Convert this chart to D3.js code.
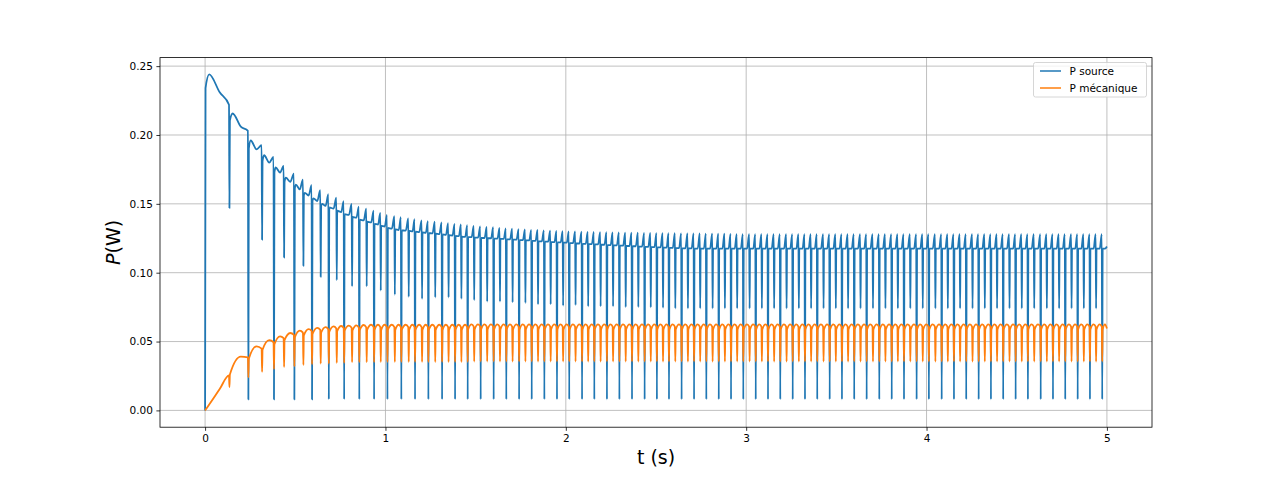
<!DOCTYPE html>
<html><head><meta charset="utf-8">
<script src="https://cdn.jsdelivr.net/npm/d3@7"></script>
<style>body{margin:0;background:#fff;} svg{display:block;font-family:"DejaVu Sans",sans-serif;}</style>
</head><body><svg id="c" width="1280" height="480"></svg>
<script>
// ---------- DATA ----------
const xTicks = [0, 1, 2, 3, 4, 5];
const xTickLabels = ["0", "1", "2", "3", "4", "5"];
const yTicks = [0.00, 0.05, 0.10, 0.15, 0.20, 0.25];
const yTickLabels = ["0.00", "0.05", "0.10", "0.15", "0.20", "0.25"];
const seriesNames = ["P source", "P mécanique"];
const tEnd = 5.0;
const blueInit = 0.0;
const orangeInit = 0.0;

// times of the commutation dips (s)
const dipT = [
0.135,0.240,0.316,0.382,0.438,0.495,0.545,0.593,0.641,0.686,
0.730,0.771,0.815,0.855,0.896,0.937,0.974,1.011,1.052,1.088,
1.129,1.164,1.203,1.238,1.276,1.314,1.350,1.386,1.421,1.456,
1.492,1.528,1.564,1.600,1.635,1.670,1.705,1.741,1.776,1.811,
1.846,1.881,1.916,1.951,1.985,2.019,2.054,2.090,2.124,2.158,
2.193,2.228,2.262,2.297,2.332,2.367,2.402,2.437,2.471,2.505,
2.539,2.572,2.607,2.642,2.677,2.711,2.745,2.779,2.814,2.848,
2.882,2.916,2.950,2.984,3.019,3.053,3.087,3.121,3.155,3.189,
3.224,3.258,3.292,3.326,3.360,3.394,3.429,3.463,3.497,3.531,
3.565,3.599,3.634,3.668,3.703,3.738,3.772,3.807,3.841,3.875,
3.910,3.945,3.979,4.013,4.049,4.084,4.118,4.152,4.186,4.220,
4.255,4.289,4.323,4.357,4.391,4.425,4.460,4.494,4.528,4.562,
4.597,4.633,4.667,4.701,4.735,4.769,4.804,4.838,4.872,4.906,
4.940,4.974];

// P source: minimum reached at each dip
const blueMin = [
0.147,0.008,0.124,0.008,0.111,0.008,0.105,0.008,0.097,0.008,
0.0945,0.008,0.090,0.008,0.090,0.008,0.087,0.008,0.084,0.008,
0.0824,0.008,0.081,0.008,0.082,0.008,0.082,0.008,0.081,0.008,
0.080,0.008,0.079,0.008,0.079,0.008,0.0785,0.008,0.078,0.008,
0.077,0.008,0.077,0.008,0.076,0.008,0.0765,0.008,0.0755,0.008,
0.0755,0.008,0.0755,0.008,0.075,0.008,0.075,0.008,0.0748,0.008,
0.0745,0.008,0.074,0.008,0.074,0.008,0.074,0.008,0.074,0.008,
0.074,0.008,0.074,0.008,0.074,0.008,0.074,0.008,0.074,0.008,
0.074,0.008,0.074,0.008,0.074,0.008,0.074,0.008,0.074,0.008,
0.074,0.008,0.074,0.008,0.074,0.008,0.074,0.008,0.074,0.008,
0.074,0.008,0.074,0.008,0.074,0.008,0.074,0.008,0.074,0.008,
0.074,0.008,0.074,0.008,0.074,0.008,0.074,0.008,0.074,0.008,
0.074,0.008,0.074,0.008,0.074,0.008,0.074,0.008,0.074,0.008,
0.074,0.008];

// P source, early intervals: level reached by the vertical jump right after the dip
const blueJump = [0.234,0.2105,0.190,0.181,0.173,0.166,0.161,0.156,0.152,0.1485];
// P source, per interval between dips: post-dip peak, level before the end cusp, cusp before next dip
const bluePost = [
0.244,0.2156,0.196,0.1853,0.1764,0.169,0.164,0.158,0.154,0.150,
0.1475,0.145,0.1425,0.1405,0.1385,0.137,0.1355,0.134,0.1325,0.1315,
0.1308,0.1303,0.1298,0.1293,0.1288,0.1283,0.1278,0.1272,0.1267,0.1261,
0.1258,0.1255,0.1252,0.125,0.1248,0.1245,0.1242,0.124,0.1237,0.1234,
0.1231,0.1228,0.1225,0.1222,0.122,0.1218,0.1215,0.1212,0.121,0.1208,
0.1205,0.1203,0.12,0.1198,0.1196,0.1194,0.1192,0.119,0.1188,0.1186,
0.1184,0.1182,0.118,0.1178,0.1177,0.1176,0.1175,0.1175,0.1175,0.1175,
0.1175,0.1175,0.1175,0.1175,0.1175,0.1175,0.1175,0.1175,0.1175,0.1175,
0.1175,0.1175,0.1175,0.1175,0.1175,0.1175,0.1175,0.1175,0.1175,0.1175,
0.1175,0.1175,0.1175,0.1175,0.1175,0.1175,0.1175,0.1175,0.1175,0.1175,
0.1175,0.1175,0.1175,0.1175,0.1175,0.1175,0.1175,0.1175,0.1175,0.1175,
0.1175,0.1175,0.1175,0.1175,0.1175,0.1175,0.1175,0.1175,0.1175,0.1175,
0.1175,0.1175,0.1175,0.1175,0.1175,0.1175,0.1175,0.1175,0.1175,0.1175,
0.1175,0.1175,0.1175];
const blueBase = [
0.231,0.206,0.1895,0.180,0.1727,0.166,0.1605,0.156,0.152,0.1485,
0.1465,0.144,0.142,0.140,0.138,0.1365,0.135,0.1335,0.132,0.131,
0.1305,0.130,0.1295,0.129,0.1285,0.128,0.1275,0.127,0.1265,0.126,
0.1258,0.1255,0.1252,0.125,0.1248,0.1245,0.1242,0.124,0.1237,0.1234,
0.1231,0.1228,0.1225,0.1222,0.122,0.1218,0.1215,0.1212,0.121,0.1208,
0.1205,0.1203,0.12,0.1198,0.1196,0.1194,0.1192,0.119,0.1188,0.1186,
0.1184,0.1182,0.118,0.1178,0.1177,0.1176,0.1175,0.1175,0.1175,0.1175,
0.1175,0.1175,0.1175,0.1175,0.1175,0.1175,0.1175,0.1175,0.1175,0.1175,
0.1175,0.1175,0.1175,0.1175,0.1175,0.1175,0.1175,0.1175,0.1175,0.1175,
0.1175,0.1175,0.1175,0.1175,0.1175,0.1175,0.1175,0.1175,0.1175,0.1175,
0.1175,0.1175,0.1175,0.1175,0.1175,0.1175,0.1175,0.1175,0.1175,0.1175,
0.1175,0.1175,0.1175,0.1175,0.1175,0.1175,0.1175,0.1175,0.1175,0.1175,
0.1175,0.1175,0.1175,0.1175,0.1175,0.1175,0.1175,0.1175,0.1175,0.1175,
0.1175,0.1175,0.1175];
const blueCusp = [
0.222,0.203,0.1926,0.184,0.1775,0.172,0.1675,0.1635,0.160,0.157,
0.1545,0.152,0.150,0.148,0.1465,0.145,0.1435,0.142,0.141,0.1403,
0.1395,0.1388,0.138,0.1375,0.137,0.1365,0.136,0.1355,0.135,0.1345,
0.134,0.1337,0.1333,0.133,0.1325,0.1322,0.132,0.1317,0.1314,0.1311,
0.131,0.1308,0.1306,0.1304,0.1302,0.130,0.1299,0.1298,0.1297,0.1296,
0.1295,0.1294,0.1293,0.1292,0.1291,0.129,0.129,0.1289,0.1289,0.1288,
0.1288,0.1287,0.1287,0.1286,0.1286,0.1285,0.1285,0.1284,0.1284,0.1283,
0.1283,0.1282,0.128,0.128,0.128,0.128,0.128,0.128,0.128,0.128,
0.128,0.128,0.128,0.128,0.128,0.128,0.128,0.128,0.128,0.128,
0.128,0.128,0.128,0.128,0.128,0.128,0.128,0.128,0.128,0.128,
0.128,0.128,0.128,0.128,0.128,0.128,0.128,0.128,0.128,0.128,
0.128,0.128,0.128,0.128,0.128,0.128,0.128,0.128,0.128,0.128,
0.128,0.128,0.128,0.128,0.128,0.128,0.128,0.128,0.128,0.128,
0.128,0.128,0.119];

// P mécanique: minimum at each dip
const orangeMin = [
0.017,0.024,0.028,0.030,0.0315,0.032,0.033,0.0335,0.034,0.034,
0.0345,0.0345,0.035,0.035,0.035,0.035,0.0352,0.0352,0.0352,0.0352,
0.0352,0.0352,0.0352,0.0352,0.0352,0.0352,0.0352,0.0352,0.0352,0.0352,
0.0355,0.0355,0.0355,0.0355,0.0355,0.0355,0.0355,0.0355,0.0355,0.0355,
0.0355,0.0355,0.0355,0.0355,0.0355,0.0355,0.0355,0.0355,0.0355,0.0355,
0.0355,0.0355,0.0355,0.0355,0.0355,0.0355,0.0355,0.0355,0.0355,0.0355,
0.0355,0.0355,0.0355,0.0355,0.0355,0.0355,0.0355,0.0355,0.0355,0.0355,
0.0355,0.0355,0.0355,0.0355,0.0355,0.0355,0.0355,0.0355,0.0355,0.0355,
0.0355,0.0355,0.0355,0.0355,0.0355,0.0355,0.0355,0.0355,0.0355,0.0355,
0.0355,0.0355,0.0355,0.0355,0.0355,0.0355,0.0355,0.0355,0.0355,0.0355,
0.0355,0.0355,0.0355,0.0355,0.0355,0.0355,0.0355,0.0355,0.0355,0.0355,
0.0355,0.0355,0.0355,0.0355,0.0355,0.0355,0.0355,0.0355,0.0355,0.0355,
0.0355,0.0355,0.0355,0.0355,0.0355,0.0355,0.0355,0.0355,0.0355,0.0355,
0.0355,0.0355];
// P mécanique, per interval: start of arch, top of arch, value before next dip
const orangeStart = [
0.0025,0.026,0.0375,0.044,0.048,0.051,0.053,0.0545,0.0555,0.0565,
0.057,0.0575,0.058,0.058,0.0583,0.0585,0.0585,0.0585,0.0585,0.0585,
0.0585,0.0585,0.0585,0.0585,0.0585,0.0585,0.0585,0.0585,0.0585,0.0585,
0.0588,0.0588,0.0588,0.0588,0.0588,0.0588,0.0588,0.0588,0.0588,0.0588,
0.0588,0.0588,0.0588,0.0588,0.0588,0.0588,0.0588,0.0588,0.0588,0.0588,
0.0588,0.0588,0.0588,0.0588,0.0588,0.0588,0.0588,0.0588,0.0588,0.0588,
0.0588,0.0588,0.0588,0.0588,0.0588,0.0588,0.0588,0.0588,0.0588,0.0588,
0.0588,0.0588,0.0588,0.0588,0.0588,0.0588,0.0588,0.0588,0.0588,0.0588,
0.0588,0.0588,0.0588,0.0588,0.0588,0.0588,0.0588,0.0588,0.0588,0.0588,
0.0588,0.0588,0.0588,0.0588,0.0588,0.0588,0.0588,0.0588,0.0588,0.0588,
0.0588,0.0588,0.0588,0.0588,0.0588,0.0588,0.0588,0.0588,0.0588,0.0588,
0.0588,0.0588,0.0588,0.0588,0.0588,0.0588,0.0588,0.0588,0.0588,0.0588,
0.0588,0.0588,0.0588,0.0588,0.0588,0.0588,0.0588,0.0588,0.0588,0.0588,
0.0588,0.0588,0.0588];
const orangePeak = [
0.0155,0.039,0.0465,0.051,0.0538,0.0562,0.058,0.059,0.060,0.0605,
0.061,0.0613,0.0616,0.0618,0.062,0.0622,0.0622,0.0622,0.0622,0.0622,
0.0622,0.0622,0.0622,0.0622,0.0622,0.0622,0.0622,0.0622,0.0622,0.0622,
0.0625,0.0625,0.0625,0.0625,0.0625,0.0625,0.0625,0.0625,0.0625,0.0625,
0.0625,0.0625,0.0625,0.0625,0.0625,0.0625,0.0625,0.0625,0.0625,0.0625,
0.0625,0.0625,0.0625,0.0625,0.0625,0.0625,0.0625,0.0625,0.0625,0.0625,
0.0625,0.0625,0.0625,0.0625,0.0625,0.0625,0.0625,0.0625,0.0625,0.0625,
0.0625,0.0625,0.0625,0.0625,0.0625,0.0625,0.0625,0.0625,0.0625,0.0625,
0.0625,0.0625,0.0625,0.0625,0.0625,0.0625,0.0625,0.0625,0.0625,0.0625,
0.0625,0.0625,0.0625,0.0625,0.0625,0.0625,0.0625,0.0625,0.0625,0.0625,
0.0625,0.0625,0.0625,0.0625,0.0625,0.0625,0.0625,0.0625,0.0625,0.0625,
0.0625,0.0625,0.0625,0.0625,0.0625,0.0625,0.0625,0.0625,0.0625,0.0625,
0.0625,0.0625,0.0625,0.0625,0.0625,0.0625,0.0625,0.0625,0.0625,0.0625,
0.0625,0.0625,0.0625];
const orangeEnd = [
0.0254,0.0385,0.0448,0.0495,0.0525,0.0548,0.0565,0.0577,0.0585,0.059,
0.0595,0.0598,0.060,0.0602,0.0603,0.0605,0.0605,0.0605,0.0605,0.0605,
0.0605,0.0605,0.0605,0.0605,0.0605,0.0605,0.0605,0.0605,0.0605,0.0605,
0.0608,0.0608,0.0608,0.0608,0.0608,0.0608,0.0608,0.0608,0.0608,0.0608,
0.0608,0.0608,0.0608,0.0608,0.0608,0.0608,0.0608,0.0608,0.0608,0.0608,
0.0608,0.0608,0.0608,0.0608,0.0608,0.0608,0.0608,0.0608,0.0608,0.0608,
0.0608,0.0608,0.0608,0.0608,0.0608,0.0608,0.0608,0.0608,0.0608,0.0608,
0.0608,0.0608,0.0608,0.0608,0.0608,0.0608,0.0608,0.0608,0.0608,0.0608,
0.0608,0.0608,0.0608,0.0608,0.0608,0.0608,0.0608,0.0608,0.0608,0.0608,
0.0608,0.0608,0.0608,0.0608,0.0608,0.0608,0.0608,0.0608,0.0608,0.0608,
0.0608,0.0608,0.0608,0.0608,0.0608,0.0608,0.0608,0.0608,0.0608,0.0608,
0.0608,0.0608,0.0608,0.0608,0.0608,0.0608,0.0608,0.0608,0.0608,0.0608,
0.0608,0.0608,0.0608,0.0608,0.0608,0.0608,0.0608,0.0608,0.0608,0.0608,
0.0608,0.0608,0.0595];

// ---------- CHART ----------
const m = {l: 160, r: 1152, t: 57.6, b: 427.2};
const x = d3.scaleLinear().domain([-0.25, 5.25]).range([m.l, m.r]);
const y = d3.scaleLinear().domain([-0.0122, 0.2562]).range([m.b, m.t]);
const svg = d3.select('#c');
const FONT = '"DejaVu Sans", sans-serif';
const EDGE = 0.0025;   // half-width of a dip, in seconds

// Builds the polyline of one series: jump after each dip, optional post-dip peak,
// level in the interval, value just before the next dip, then the dip minimum.
function buildPoints(init, jumpArr, startArr, midArr, endArr, minArr, peakFrac, midFrac) {
  const N = dipT.length;
  const pts = [[0, init]];
  for (let k = 0; k <= N; k++) {
    const t0 = k === 0 ? 0 : dipT[k - 1];
    const t1 = k === N ? tEnd : dipT[k];
    const L = t1 - t0;
    if (jumpArr && k < jumpArr.length) {
      pts.push([t0 + EDGE, jumpArr[k]]);
      pts.push([t0 + peakFrac * L, startArr[k]]);
    } else if (!jumpArr && k === 0) {
      pts.push([t0 + peakFrac * L, startArr[k]]);
    } else {
      pts.push([t0 + EDGE, startArr[k]]);
    }
    pts.push([t0 + midFrac * L, midArr[k]]);
    if (k < N) { pts.push([t1 - EDGE, endArr[k]]); pts.push([t1, minArr[k]]); }
    else pts.push([t1, endArr[k]]);
  }
  return pts;
}

// grid
const grid = svg.append('g');
grid.selectAll('line.gx').data(xTicks).join('line').attr('class', 'gx')
  .attr('x1', d => x(d)).attr('x2', d => x(d)).attr('y1', m.t).attr('y2', m.b)
  .attr('stroke', '#b0b0b0').attr('stroke-width', 0.8);
grid.selectAll('line.gy').data(yTicks).join('line').attr('class', 'gy')
  .attr('y1', d => y(d)).attr('y2', d => y(d)).attr('x1', m.l).attr('x2', m.r)
  .attr('stroke', '#b0b0b0').attr('stroke-width', 0.8);

const line = d3.line().x(d => x(d[0])).y(d => y(d[1])).curve(d3.curveMonotoneX);
const bluePts = buildPoints(blueInit, blueJump, bluePost, blueBase, blueCusp, blueMin, 0.17, 0.6);
const orangePts = buildPoints(orangeInit, null, orangeStart, orangePeak, orangeEnd, orangeMin, 0.1, 0.6);

svg.append('path').attr('d', line(bluePts)).attr('fill', 'none')
  .attr('stroke', '#1f77b4').attr('stroke-width', 1.8).attr('stroke-linejoin', 'round');
svg.append('path').attr('d', line(orangePts)).attr('fill', 'none')
  .attr('stroke', '#ff7f0e').attr('stroke-width', 1.8).attr('stroke-linejoin', 'round');

// axes
const xAxis = d3.axisBottom(x).tickValues(xTicks).tickFormat((d, i) => xTickLabels[i]).tickSize(3.6).tickPadding(3.5);
const yAxis = d3.axisLeft(y).tickValues(yTicks).tickFormat((d, i) => yTickLabels[i]).tickSize(3.6).tickPadding(3.5);
function styleAxis(g) {
  g.select('.domain').remove();
  g.attr('font-family', FONT).attr('font-size', 10.5);
  g.selectAll('line').attr('stroke', '#000').attr('stroke-width', 0.8);
  g.selectAll('text').attr('fill', '#000');
}
svg.append('g').attr('transform', `translate(0,${m.b})`).call(xAxis).call(styleAxis);
svg.append('g').attr('transform', `translate(${m.l},0)`).call(yAxis).call(styleAxis);

// spines
svg.append('rect').attr('x', m.l).attr('y', m.t).attr('width', m.r - m.l).attr('height', m.b - m.t)
  .attr('fill', 'none').attr('stroke', '#000').attr('stroke-width', 0.8);

// axis labels
svg.append('text').attr('x', (m.l + m.r) / 2).attr('y', 464).attr('text-anchor', 'middle')
  .attr('font-family', FONT).attr('font-size', 19).attr('fill', '#000').text('t (s)');
const yl = svg.append('text').attr('transform', `translate(119.5,${(m.t + m.b) / 2}) rotate(-90)`)
  .attr('text-anchor', 'middle').attr('font-family', FONT).attr('font-size', 19).attr('fill', '#000');
yl.append('tspan').attr('font-style', 'italic').text('P');
yl.append('tspan').text('(W)');

// legend
const lg = svg.append('g');
lg.append('rect').attr('x', 1033.5).attr('y', 62.5).attr('width', 113).attr('height', 34.5)
  .attr('rx', 2).attr('fill', '#fff').attr('fill-opacity', 0.8).attr('stroke', '#cccccc').attr('stroke-width', 0.8);
const colors = ['#1f77b4', '#ff7f0e'];
seriesNames.forEach((name, i) => {
  const cy = 71 + i * 17;
  lg.append('line').attr('x1', 1040).attr('x2', 1061).attr('y1', cy).attr('y2', cy)
    .attr('stroke', colors[i]).attr('stroke-width', 1.5);
  lg.append('text').attr('x', 1069.5).attr('y', cy + 3.8).attr('font-family', FONT)
    .attr('font-size', 10.5).attr('fill', '#000').text(name);
});
</script>
</body></html>
